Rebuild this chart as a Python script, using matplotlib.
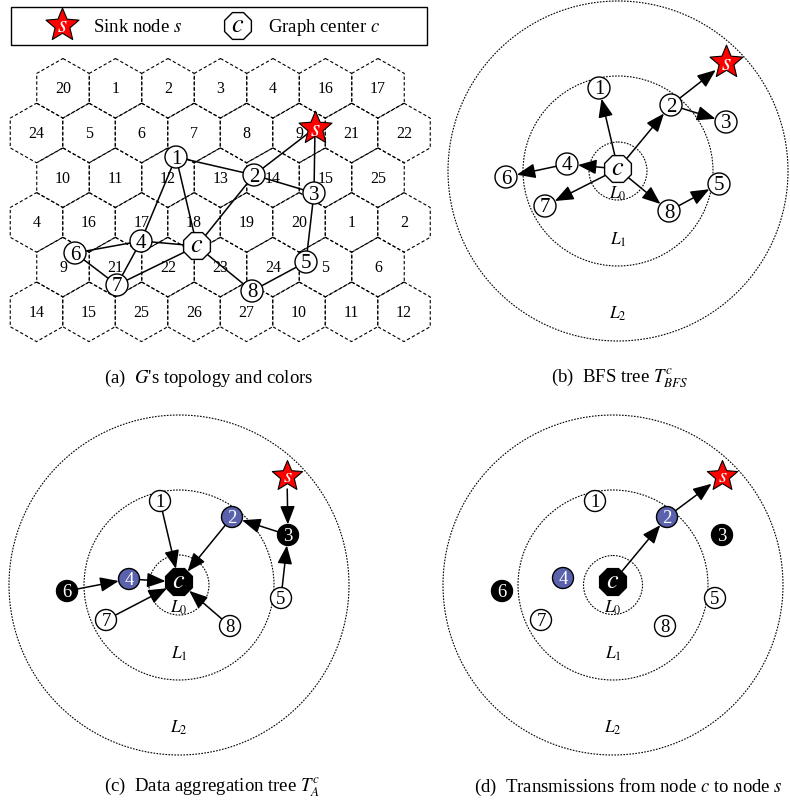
import numpy as np
import matplotlib.pyplot as plt
from matplotlib.path import Path
from matplotlib.patches import Polygon, Circle, RegularPolygon, Rectangle, FancyArrowPatch

plt.rcParams['font.family'] = ['Liberation Serif', 'DejaVu Serif']
plt.rcParams['mathtext.fontset'] = 'stix'

# colour of every hexagon cell, row by row (top to bottom)
hex_rows = [
    [20, 1, 2, 3, 4, 16, 17],
    [24, 5, 6, 7, 8, 9, 21, 22],
    [10, 11, 12, 13, 14, 15, 25],
    [4, 16, 17, 18, 19, 20, 1, 2],
    [9, 21, 22, 23, 24, 5, 6],
    [14, 15, 25, 26, 27, 10, 11, 12],
]

nodes = ['s', 'c', '1', '2', '3', '4', '5', '6', '7', '8']

# node positions (pixels) in each panel
xa = [315, 197, 176, 254, 314, 141, 306, 75, 117, 252]
ya = [129, 247, 158, 176, 194, 242, 263, 254, 286, 292]
xb = [726, 618, 599, 671, 726, 567, 719, 506, 545, 669]
yb = [63, 170, 89, 106, 123, 165, 185, 178, 207, 212]
xc = [287, 179, 160, 232, 288, 129, 281, 67, 106, 230]
yc = [477, 583, 502, 518, 536, 580, 599, 592, 621, 627]
xd = [722, 613, 595, 667, 722, 563, 715, 502, 541, 665]
yd = [477, 583, 502, 518, 536, 579, 599, 592, 621, 627]

edges_a = [('1', '2'), ('1', '4'), ('1', 'c'), ('2', 's'), ('2', '3'), ('2', 'c'),
           ('s', '3'), ('3', '5'), ('5', '8'), ('c', '8'), ('c', '4'), ('c', '7'),
           ('4', '6'), ('4', '7'), ('6', '7')]
arrows_b = [('c', '1'), ('c', '2'), ('c', '4'), ('c', '7'), ('c', '8'),
            ('2', 's'), ('2', '3'), ('4', '6'), ('8', '5')]
arrows_c = [('s', '3'), ('3', '2'), ('5', '3'), ('2', 'c'), ('1', 'c'),
            ('4', 'c'), ('6', '4'), ('7', 'c'), ('8', 'c')]
arrows_d = [('c', '2'), ('2', 's')]

black_nodes = ['c', '3', '6']
blue_nodes = ['2', '4']
BLUE = '#5a62ad'

# layer circles: centre x, centre y, radii
rings_b = (618, 172, [29, 95, 170])
rings_c = (179, 586, [30, 95, 170])
rings_d = (613, 586, [29.5, 95, 170])

STAR = Path.unit_regular_star(5, 0.45)

fig = plt.figure(figsize=(7.9, 8.03), dpi=100)
ax = fig.add_axes([0, 0, 1, 1])
ax.set_xlim(0, 790)
ax.set_ylim(803, 0)
ax.axis('off')


def node_radius(name, small):
    if name == 's':
        return 13
    if name == 'c':
        return 13.5
    return 10.5 if small else 11


def draw_node(name, x, y, small=False, colored=False):
    fill, tc = 'white', 'black'
    if colored and name in black_nodes:
        fill, tc = 'black', 'white'
    if colored and name in blue_nodes:
        fill, tc = BLUE, 'white'
    if name == 's':
        ax.plot(x, y, marker=STAR, ms=25 if not small else 23, mfc='red', mec='black',
                mew=0.8, zorder=4)
        ax.text(x + 0.5, y + 1, '$s$', color='white', fontsize=17 if not small else 15,
                ha='center', va='center', zorder=5)
    elif name == 'c':
        ax.add_patch(RegularPolygon((x, y), 8, radius=14.5, orientation=np.pi / 8,
                                    fc=fill, ec='black', lw=1.0, zorder=4))
        ax.text(x, y - 1, '$c$', color=tc, fontsize=19, ha='center', va='center', zorder=5)
    else:
        r = node_radius(name, small)
        ax.add_patch(Circle((x, y), r, fc=fill, ec='black', lw=1.0, zorder=4))
        ax.text(x, y + 1, name, color=tc, fontsize=13.5 if small else 15,
                ha='center', va='center', zorder=5)


def draw_arrow(p, q, rp, rq):
    p, q = np.array(p, float), np.array(q, float)
    u = (q - p) / np.hypot(*(q - p))
    a = FancyArrowPatch(p + u * rp, q - u * rq,
                        arrowstyle='-|>,head_length=0.75,head_width=0.3',
                        mutation_scale=15, lw=1.1, color='black',
                        shrinkA=0, shrinkB=0, zorder=3)
    ax.add_patch(a)


def draw_rings(rings):
    cx, cy, radii = rings
    for r in radii:
        ax.add_patch(Circle((cx, cy), r, fill=False, ec='black', lw=0.8,
                            ls=(0, (1.5, 1.2)), zorder=1))
    ax.text(cx, cy + 22, '$L_0$', fontsize=12.5, ha='center', va='center', zorder=2)
    ax.text(cx, cy + 68, '$L_1$', fontsize=12.5, ha='center', va='center', zorder=2)
    ax.text(cx, cy + 142, '$L_2$', fontsize=12.5, ha='center', va='center', zorder=2)


# (a) hexagon grid with colours
hw, hh = 26.25, 29.8
for i, row in enumerate(hex_rows):
    cy = 89.3 + 44.7 * i
    x0 = 63 if i % 2 == 0 else 36.5
    for k, lab in enumerate(row):
        cx = x0 + 52.5 * k
        verts = [(cx, cy - hh), (cx + hw, cy - hh / 2), (cx + hw, cy + hh / 2),
                 (cx, cy + hh), (cx - hw, cy + hh / 2), (cx - hw, cy - hh / 2)]
        ax.add_patch(Polygon(verts, closed=True, fill=False, ec='black', lw=0.8,
                             ls=(0, (3, 2)), zorder=1))
        ax.text(cx, cy, str(lab), fontsize=11.5, ha='center', va='center', zorder=1)

pa = {n: (x, y) for n, x, y in zip(nodes, xa, ya)}
for u, v in edges_a:
    ax.plot([pa[u][0], pa[v][0]], [pa[u][1], pa[v][1]], color='black', lw=1.1, zorder=2)
for n in nodes:
    draw_node(n, *pa[n])

# legend box
ax.add_patch(Rectangle((11, 8), 416, 38, fill=False, ec='black', lw=1.0, zorder=3))
draw_node('s', 62, 26)
ax.text(93, 27, 'Sink node $s$', fontsize=13.5, ha='left', va='center')
draw_node('c', 238, 27)
ax.text(268, 27, 'Graph center $c$', fontsize=13.5, ha='left', va='center')


def draw_tree(xs, ys, arrows, rings, small, colored):
    draw_rings(rings)
    pos = {n: (x, y) for n, x, y in zip(nodes, xs, ys)}
    for u, v in arrows:
        draw_arrow(pos[u], pos[v], node_radius(u, small), node_radius(v, small))
    for n in nodes:
        draw_node(n, *pos[n], small=small, colored=colored)


draw_tree(xb, yb, arrows_b, rings_b, False, False)
draw_tree(xc, yc, arrows_c, rings_c, True, True)
draw_tree(xd, yd, arrows_d, rings_d, True, True)

# sub-figure captions
cap = dict(fontsize=13.5, ha='center', va='center')
ax.text(209, 378, "(a)  $G$'s topology and colors", **cap)
ax.text(620, 378, '(b)  BFS tree $T^c_{BFS}$', **cap)
ax.text(212, 787, '(c)  Data aggregation tree $T^c_A$', **cap)
ax.text(628, 787, '(d)  Transmissions from node $c$ to node $s$', **cap)

fig.savefig('out.png', dpi=100)
